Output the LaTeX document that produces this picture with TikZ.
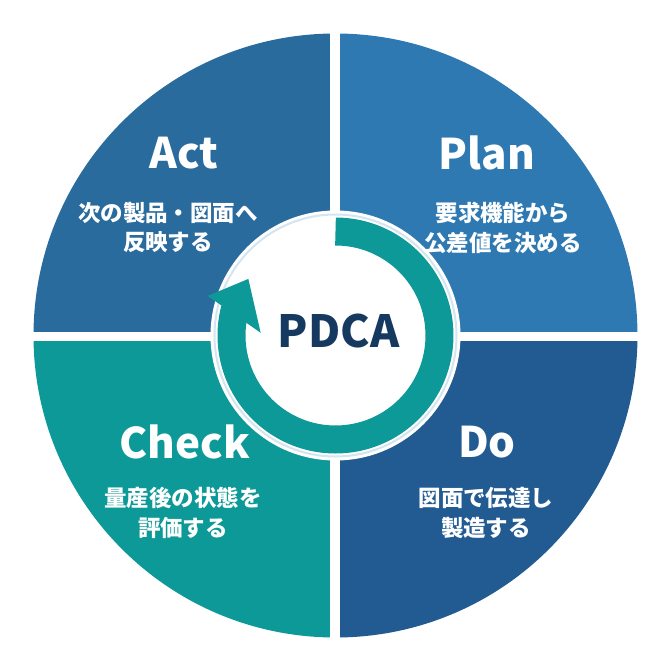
\documentclass[tikz,border=0pt]{standalone}
\usepackage{fontspec}
\usepackage{tikz}
\newfontfamily\jpfont{Noto Sans CJK JP}

\definecolor{actblue}{HTML}{2A6B9E}
\definecolor{planblue}{HTML}{2F79B3}
\definecolor{checkteal}{HTML}{0E9999}
\definecolor{doblue}{HTML}{225B91}
\definecolor{ringline}{HTML}{D3E5F0}
\definecolor{pdcanavy}{HTML}{15395F}

\begin{document}
\begin{tikzpicture}[
        title/.style={font=\jpfont\bfseries\fontsize{12}{14}\selectfont, text=white},
        desc/.style={font=\jpfont\bfseries\fontsize{6.4}{8.5}\selectfont, text=white, align=center}]
        \useasboundingbox (-3.355,-3.365) rectangle (3.355,3.355);

        % Quadrants
        \fill[actblue] (0,0) -- (-3.02,0) arc (180:90:3.02) -- cycle;  % Act
        \fill[planblue] (0,0) -- (0,3.02) arc (90:0:3.02) -- cycle;  % Plan
        \fill[doblue] (0,0) -- (3.02,0) arc (0:-90:3.02) -- cycle;  % Do
        \fill[checkteal] (0,0) -- (0,-3.02) arc (-90:-180:3.02) -- cycle;  % Check

        % White cross
        \fill[white] (-0.05,-3.1) rectangle (0.05,3.1);
        \fill[white] (-3.1,-0.055) rectangle (3.1,0.04);

        % Inner disc
        \fill[white] (0,0) circle (1.25);
        \draw[ringline, line width=0.02cm] (0,0) circle (1.21);

        % Cycle arrow
        \draw[checkteal, line width=0.28cm] (90:1.04) arc (90:-195:1.04);  % Shaft
        \fill[checkteal] (162.8:1.338) -- (147:1.039) -- (177.9:0.749) -- cycle;  % Head

        % Labels
        \node[font=\jpfont\bfseries\fontsize{12.6}{14}\selectfont, text=pdcanavy] (pdca) at (0.03,0.04) {PDCA};

        \node[title] (act) at (-1.515,1.825) {Act};
        \node[desc] (actText) at (-1.675,1.08) {次の製品・図面へ\\反映する};

        \node[title] (plan) at (1.515,1.825) {Plan};
        \node[desc] (planText) at (1.675,1.08) {要求機能から\\公差値を決める};

        \node[title] (check) at (-1.505,-1.065) {Check};
        \node[desc] (checkText) at (-1.525,-1.775) {量産後の状態を\\評価する};

        \node[title] (do) at (1.515,-1.065) {Do};
        \node[desc] (doText) at (1.505,-1.775) {図面で伝達し\\製造する};
\end{tikzpicture}
\end{document}
